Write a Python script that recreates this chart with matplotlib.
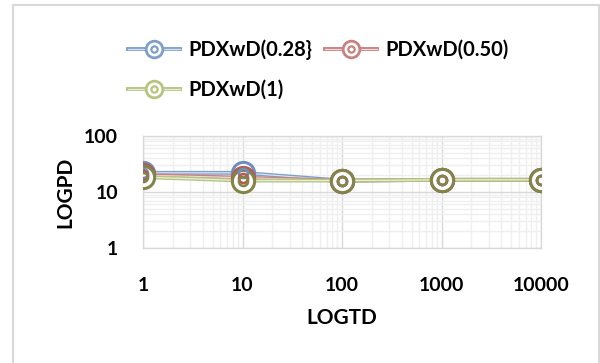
import matplotlib.pyplot as plt
from matplotlib.lines import Line2D
from matplotlib.patches import Rectangle

plt.rcParams["font.family"] = ["Lato", "DejaVu Sans"]

# data
td = [1, 10, 100, 1000, 10000]
pd_028 = [22, 22, 16, 16.5, 16.5]
pd_050 = [20, 18, 16, 16.5, 16.5]
pd_1 = [18.5, 16, 16, 16.5, 16.5]

series = [
    ("PDXwD(0.28}", pd_028, "#7F9FCB", "#6E8FC0"),
    ("PDXwD(0.50)", pd_050, "#C9807E", "#B45A57"),
    ("PDXwD(1)", pd_1, "#B5C47E", "#84844A"),
]

fig = plt.figure(figsize=(6, 3.63), dpi=100)
fig.patches.append(Rectangle((13 / 600, -0.05), 586 / 600, 1 - 5 / 363 + 0.05,
                             transform=fig.transFigure, fill=False,
                             edgecolor="#D9D9D9", linewidth=1.5))

ax = fig.add_axes([143 / 600, 1 - 248 / 363, 398 / 600, 112 / 363])
ax.set_xscale("log")
ax.set_yscale("log")
ax.set_xlim(1, 10000)
ax.set_ylim(1, 100)

ax.grid(True, which="major", color="#D9D9D9", linewidth=1.0)
ax.grid(True, which="minor", color="#EFEFEF", linewidth=1.0)
ax.set_axisbelow(True)
for s in ax.spines.values():
    s.set_color("#D9D9D9")
    s.set_linewidth(1.0)

for name, vals, lc, mc in series:
    ax.plot(td, vals, color=lc, lw=2.8, solid_capstyle="butt", zorder=3)
    ax.plot(td, vals, color="white", lw=0.9, alpha=0.7, zorder=3)
for name, vals, lc, mc in series:
    ax.plot(td, vals, ls="none", marker="o", ms=16, mfc="white", mec=mc, mew=2.2, zorder=4)
    ax.plot(td, vals, ls="none", marker="o", ms=6.5, mfc="none", mec=mc, mew=1.9, zorder=5)

ax.set_xticks(td)
ax.set_xticklabels(["1", "10", "100", "1000", "10000"])
ax.set_yticks([1, 10, 100])
ax.set_yticklabels(["1", "10", "100"])
ax.tick_params(which="both", length=0, labelsize=14)
ax.tick_params(axis="x", pad=21)
ax.tick_params(axis="y", pad=18)
for lab in ax.get_xticklabels() + ax.get_yticklabels():
    lab.set_fontweight("bold")

ax.set_xlabel("LOGTD", fontsize=15, fontweight="bold", labelpad=10)
ax.set_ylabel("LOGPD", fontsize=15, fontweight="bold", labelpad=6)

handles = []
for name, vals, lc, mc in series:
    handles.append((Line2D([], [], color=lc, lw=2.8),
                    Line2D([], [], color="white", lw=0.9, alpha=0.7),
                    Line2D([], [], ls="none", marker="o", ms=12, mfc="white", mec=lc, mew=2.0),
                    Line2D([], [], ls="none", marker="o", ms=4.5, mfc="none", mec=lc, mew=1.6)))
# column order: blue, green | red
order = [0, 2, 1]
fig.legend([handles[i] for i in order], [series[i][0] for i in order],
           ncol=2, loc="upper left", bbox_to_anchor=(110 / 600, 1 - 21 / 363),
           frameon=False, prop={"weight": "bold", "size": 14.5},
           handlelength=2.6, columnspacing=0.6, labelspacing=1.0, handletextpad=0.4)

plt.savefig("out.png", dpi=100)
